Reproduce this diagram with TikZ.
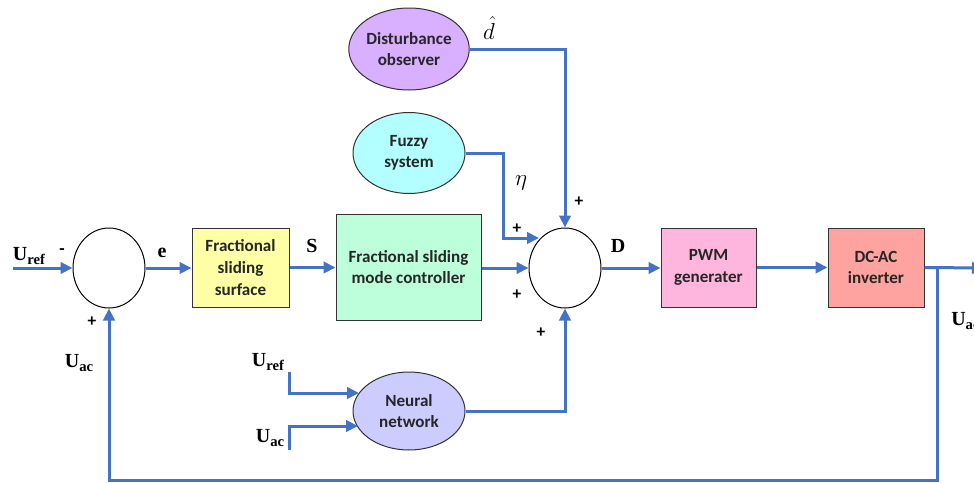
\documentclass[tikz,border=0pt]{standalone}
\usepackage{fontspec}
\setmainfont{Liberation Serif}
\newfontfamily\boxfont{Carlito}
\usetikzlibrary{arrows.meta,shapes.geometric}
\definecolor{lineblue}{HTML}{4472C4}
\definecolor{cyellow}{HTML}{FFFFA5}
\definecolor{cgreen}{HTML}{BDFFDB}
\definecolor{cpurple}{HTML}{D9B0FF}
\definecolor{ccyan}{HTML}{B3FFFF}
\definecolor{cpink}{HTML}{FFB6DE}
\definecolor{csalmon}{HTML}{FFA3A0}
\definecolor{clav}{HTML}{CCCCFF}
\definecolor{ctext}{HTML}{262626}
\newcommand{\Usub}[1]{\textbf{U\raisebox{-0.35ex}{\fontsize{11}{11}\selectfont #1}}}
\begin{document}
\begin{tikzpicture}[x=0.75pt,y=-0.75pt,
  blk/.style={draw=black!80,line width=0.75pt,rectangle,align=center,
     font=\boxfont\bfseries\fontsize{12.8}{16.2}\selectfont,text=ctext},
  ell/.style={draw=black!80,line width=0.75pt,ellipse,align=center,inner sep=0pt,
     minimum width=84pt,font=\boxfont\bfseries\fontsize{12.8}{16.2}\selectfont,text=ctext},
  sumc/.style={draw=black,line width=0.75pt,ellipse,fill=white,minimum width=54pt,minimum height=60pt,inner sep=0pt},
  conn/.style={draw=lineblue,line width=2.25pt},
  arr/.style={conn,-{Triangle[length=9pt,width=8.5pt]}},
  lbl/.style={font=\fontsize{15}{15}\selectfont\bfseries,inner sep=0pt},
  sgn/.style={font=\boxfont\bfseries\fontsize{13}{13}\selectfont,inner sep=0pt}]
\useasboundingbox (0,0) rectangle (974,482);
% main blocks
\node[sumc] (sum1) at (109,268) {};
\node[blk,fill=cyellow,minimum width=72.75pt,minimum height=59.25pt] (fss) at (240.5,267.5) {Fractional\\sliding\\surface};
\node[blk,fill=cgreen,minimum width=108.75pt,minimum height=79.5pt] (fsmc) at (408.5,267) {Fractional sliding\\mode controller};
\node[sumc] (sum2) at (565,268) {};
\node[blk,fill=cpink,minimum width=71.25pt,minimum height=59.25pt] (pwm) at (708.5,267.5) {PWM\\generater};
\node[blk,fill=csalmon,minimum width=72pt,minimum height=59.25pt] (inv) at (876,267.5) {DC-AC\\inverter};
\node[ell,fill=cpurple,minimum height=61.5pt] (dob) at (409,49) {Disturbance\\observer};
\node[ell,fill=ccyan,minimum height=60.75pt] (fuzzy) at (409,153) {Fuzzy\\system};
\node[ell,fill=clav,minimum height=58.5pt] (nn) at (409,411) {Neural\\network};
% coordinates
\coordinate (uin) at (13,268);
\coordinate (out) at (984,268);
\coordinate (br) at (937,268);
\coordinate (fbl) at (109,480);
\coordinate (fk) at (503,238);
\coordinate (fe) at (539,238);
\coordinate (ur) at (289,372);
\coordinate (ua) at (289,450);
\coordinate (nna) at (359,393);
\coordinate (nnb) at (358,426);
% connectors
\draw[arr] (uin) -- (sum1.west);
\draw[arr] (sum1.east) -- (fss.west |- sum1.east);
\draw[arr] (fss.east) -- (fsmc.west |- fss.east);
\draw[arr] (fsmc.east |- sum2.west) -- (sum2.west);
\draw[arr] (sum2.east) -- (pwm.west |- sum2.east);
\draw[arr] (pwm.east) -- (inv.west |- pwm.east);
\draw[arr] (inv.east) -- (out);
\draw[arr] (br) |- (fbl) -- (sum1.south);
\draw[arr] (dob.east) -| (sum2.north);
\draw[arr] (fuzzy.east) -| (fk) -- (fe);
\draw[arr] (nn.east) -| (sum2.south);
\draw[arr] (ur) |- (nna);
\draw[arr] (ua) |- (nnb);
% labels
\node[lbl] (l1) at (29,256) {\Usub{ref}};
\node[sgn] (m1) at (62,252) {-};
\node[lbl] (le) at (162,253) {e};
\node[lbl] (ls) at (312,246) {S};
\node[sgn] (p1) at (92,322) {+};
\node[lbl] (l2) at (79,363) {\Usub{ac}};
\node[inner sep=0pt,font=\fontsize{16}{16}\selectfont] (ld) at (489,28) {$\hat{d}$};
\node[inner sep=0pt,font=\fontsize{16}{16}\selectfont] (leta) at (521,183) {$\eta$};
\node[sgn] (p2) at (579,202) {+};
\node[sgn] (p3) at (517,229) {+};
\node[sgn] (p4) at (517,295) {+};
\node[sgn] (p5) at (541,333) {+};
\node[lbl] (lD) at (618,246) {D};
\node[lbl] (l3) at (268,362) {\Usub{ref}};
\node[lbl] (l4) at (270,438) {\Usub{ac}};
\node[lbl,anchor=west] (l5) at (951,321) {\Usub{ac}};
\end{tikzpicture}
\end{document}
